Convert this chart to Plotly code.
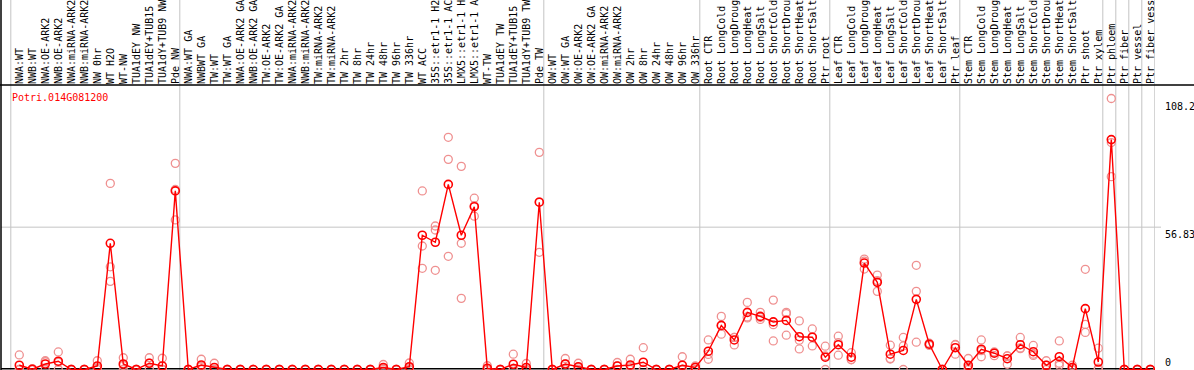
import plotly.graph_objects as go

title_text = "Potri.014G081200"

categories = [
    "NWA:WT", "NWB:WT", "NWA:OE-ARK2", "NWB:OE-ARK2", "NWA:miRNA-ARK2", "NWB:miRNA-ARK2",
    "NW 0hr", "WT H2O", "WT-NW", "TUA1dEY NW", "TUA1dEY+TUB15 NW", "TUA1dY+TUB9 NW", "Pde NW",
    "NWA:WT GA", "NWBWT GA", "TW:WT", "TW:WT GA", "NWA:OE-ARK2 GA", "NWB:OE-ARK2 GA",
    "TW:OE-ARK2", "TW:OE-ARK2 GA", "NWA:miRNA-ARK2", "NWB:miRNA-ARK2", "TW:miRNA-ARK2",
    "TW:miRNA-ARK2", "TW 2hr", "TW 8hr", "TW 24hr", "TW 48hr", "TW 96hr", "TW 336hr",
    "WT ACC", "35S::etr1-1 H2O", "35S::etr1-1 ACC", "LMX5::etr1-1 H2O", "LMX5::etr1-1 ACC",
    "WT-TW", "TUA1dEY TW", "TUA1dEY+TUB15 TW", "TUA1dY+TUB9 TW", "Pde TW",
    "OW:WT", "OW:WT GA", "OW:OE-ARK2", "OW:OE-ARK2 GA", "OW:miRNA-ARK2", "OW:miRNA-ARK2",
    "OW 2hr", "OW 8hr", "OW 24hr", "OW 48hr", "OW 96hr", "OW 336hr",
    "Root CTR", "Root LongCold", "Root LongDrought", "Root LongHeat", "Root LongSalt",
    "Root ShortCold", "Root ShortDrought", "Root ShortHeat", "Root ShortSalt", "Ptr root",
    "Leaf CTR", "Leaf LongCold", "Leaf LongDrought", "Leaf LongHeat", "Leaf LongSalt",
    "Leaf ShortCold", "Leaf ShortDrought", "Leaf ShortHeat", "Leaf ShortSalt", "Ptr leaf",
    "Stem CTR", "Stem LongCold", "Stem LongDrought", "Stem LongHeat", "Stem LongSalt",
    "Stem ShortCold", "Stem ShortDrought", "Stem ShortHeat", "Stem ShortSalt", "Ptr shoot",
    "Ptr xylem", "Ptr phloem", "Ptr fiber", "Ptr vessel", "Ptr fiber vessel",
]

# sizes of the groups separated by vertical grey lines
group_sizes = [13, 28, 12, 10, 10, 11, 1, 1, 1, 1]

mean_values = [
    1.7, 0.1, 2.2, 3.3, 0, 0, 1.4, 50.4, 2.2, 0, 2.5, 1.4, 71.3,
    0, 1.8, 0.8, 0, 0, 0, 0, 0, 0, 0, 0, 0, 0, 0, 0, 0.8, 0, 1.1,
    53.6, 50.8, 73.9, 53.6, 65.0, 0.5, 0, 2.1, 0.8, 66.8,
    0, 2.2, 1.1, 0, 0, 1.4, 1.8, 2.9, 0, 0, 1.7, 0.8,
    7.3, 17.6, 11.8, 22.8, 21.2, 19.0, 19.6, 13.1, 12.9, 4.9,
    9.9, 4.9, 42.5, 34.8, 6.1, 7.6, 28.0, 10.1, 0, 8.7,
    1.7, 8.1, 6.5, 4.3, 9.9, 7.1, 1.7, 5.1, 0.8, 24.3, 3.0,
    91.8, 0, 0, 0,
]

rep_a = [
    5.8, 0.3, 3.5, 7.0, 0, 0, 3.5, 74.3, 4.7, 0, 4.7, 4.5, 82.3,
    0, 4.1, 2.5, 0, 0, 0, 0, 0, 0, 0, 0, 0, 0, 0, 0, 2.0, 0, 2.6,
    71.3, 57.3, 92.7, 81.1, 68.4, 1.5, 0, 6.1, 2.4, 86.7,
    0, 4.4, 2.5, 0, 0, 2.8, 4.1, 8.7, 0, 0, 5.1, 1.4,
    11.8, 21.2, 12.8, 26.8, 22.8, 27.7, 22.8, 19.4, 16.2, 9.3,
    13.3, 6.7, 44.1, 37.7, 9.7, 12.8, 41.6, 10.5, 0, 10.0,
    4.4, 11.8, 7.0, 5.4, 12.8, 9.6, 3.5, 11.4, 1.7, 40.0, 8.5,
    108.2, 0, 0, 0,
]

rep_b = [
    0, 0, 3.1, 2.9, 0, 0, 0.7, 41.0, 1.6, 0, 2.5, 0, 59.7,
    0, 1.3, 0, 0, 0, 0, 0, 0, 0, 0, 0, 0, 0, 0, 0, 0.4, 0, 0.7,
    49.3, 55.7, 83.9, 50.4, 61.2, 0, 0, 0.2, 0, 46.8,
    0, 2.2, 0.8, 0, 0, 1.4, 1.3, 0, 0, 0, 0, 1.0,
    6.0, 17.5, 12.8, 21.0, 20.8, 17.9, 22.3, 11.7, 13.0, 5.4,
    10.7, 4.0, 43.3, 35.5, 4.4, 9.4, 31.2, 10.1, 0, 9.8,
    0.7, 7.5, 6.7, 5.4, 8.6, 6.1, 1.7, 2.5, 0.7, 18.0, 0.5,
    90.6, 0, 0, 0,
]

rep_c = [
    0, 0, 0, 0, 0, 0, 0, 35.2, 0, 0, 0.3, 0, 71.9,
    0, 0, 0, 0, 0, 0, 0, 0, 0, 0, 0, 0, 0, 0, 0, 0, 0, 0,
    40.4, 39.6, 45.2, 28.4, 65.4, 0, 0, 0, 0, 66.9,
    0, 0, 0, 0, 0, 0, 0, 0, 0, 0, 0, 0,
    4.1, 14.1, 9.8, 20.6, 20.0, 11.4, 13.7, 8.2, 9.4, 0,
    5.7, 3.9, 40.1, 31.2, 4.2, 0, 10.9, 9.6, 0, 6.1,
    0, 5.1, 5.5, 2.1, 8.3, 5.6, 0, 1.7, 0, 14.8, 0,
    77.0, 0, 0, 0,
]

ytick_vals = [0, 56.83, 108.2]
ytick_text = ["0", "56.83", "108.2"]

FONT = "DejaVu Sans Mono"
W, H = 1194, 370
ML, MR, MT, MB = 1, 39, 85, 0
PW = W - ML - MR
PH = H - MT - MB

xs = list(range(len(categories)))

fig = go.Figure()

for reps in (rep_a, rep_b, rep_c):
    fig.add_trace(go.Scatter(
        x=xs, y=reps, mode="markers",
        marker=dict(symbol="circle-open", size=8, color="#ef9090",
                    line=dict(width=1.3, color="#ef9090")),
        hoverinfo="skip", showlegend=False,
    ))

fig.add_trace(go.Scatter(
    x=xs, y=mean_values, mode="lines+markers",
    line=dict(color="#ff0000", width=1.4),
    marker=dict(symbol="circle-open", size=8, color="#ff0000",
                line=dict(width=1.6, color="#ff0000")),
    showlegend=False,
))

# group separators
shapes = []
b = 0
bounds = [0]
for g in group_sizes:
    b += g
    bounds.append(b)
top_paper = 1 + MT / PH + 0.02
for k in bounds:
    shapes.append(dict(type="line", xref="x", yref="paper", x0=k - 0.654, x1=k - 0.654,
                       y0=0, y1=top_paper, line=dict(color="#c4c4c4", width=1), layer="below"))
# mid horizontal grid line
shapes.append(dict(type="line", xref="paper", yref="y", x0=0, x1=(1161 - ML) / PW,
                   y0=ytick_vals[1], y1=ytick_vals[1], line=dict(color="#c4c4c4", width=1), layer="below"))
# frame lines
shapes.append(dict(type="line", xref="paper", yref="paper", x0=-0.01, x1=(W - ML) / PW + 0.01,
                   y0=1, y1=1, line=dict(color="black", width=1.5), layer="above"))
shapes.append(dict(type="line", xref="paper", yref="paper", x0=0, x1=0,
                   y0=0, y1=top_paper, line=dict(color="black", width=1.5), layer="below"))
shapes.append(dict(type="line", xref="paper", yref="paper", x0=0, x1=1,
                   y0=1.2 / PH, y1=1.2 / PH, line=dict(color="black", width=1.5), layer="below"))

annotations = [dict(text=title_text, xref="paper", yref="paper", x=(10 - ML) / PW,
                    y=(H - 97) / PH, xanchor="left", yanchor="middle", showarrow=False,
                    font=dict(family=FONT, size=10, color="#ff0000"))]
for v, t in zip(ytick_vals, ytick_text):
    annotations.append(dict(text=t, xref="paper", yref="y", x=(1163 - ML) / PW, y=v,
                            xanchor="left", yanchor="bottom" if v == 0 else "top",
                            showarrow=False, font=dict(family=FONT, size=10, color="black")))

x0 = -(19.3 - ML) / 13.0
fig.update_layout(
    width=W, height=H,
    margin=dict(l=ML, r=MR, t=MT, b=MB, pad=0),
    paper_bgcolor="white", plot_bgcolor="white",
    font=dict(family=FONT, size=10, color="black"),
    xaxis=dict(range=[x0, x0 + PW / 13.0], side="top", tickmode="array",
               tickvals=xs, ticktext=categories, tickangle=-90,
               tickfont=dict(family=FONT, size=10, color="black"),
               showgrid=False, zeroline=False, showline=False, ticks="",
               automargin=False, fixedrange=True),
    yaxis=dict(range=[-0.2, 113.59], showgrid=False, zeroline=False, showline=False,
               showticklabels=False, ticks="", fixedrange=True),
    shapes=shapes, annotations=annotations,
)

fig.write_html("out.html", config={"displayModeBar": False},
               post_script="document.body.style.margin='0';document.body.style.overflow='hidden';")
